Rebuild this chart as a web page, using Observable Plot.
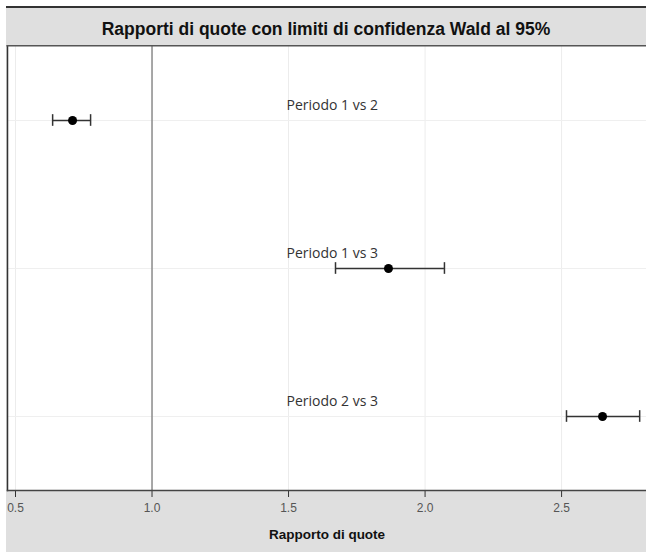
<!DOCTYPE html>
<html>
<head>
<meta charset="utf-8">
<script src="https://cdn.jsdelivr.net/npm/d3@7"></script>
<script src="https://cdn.jsdelivr.net/npm/@observablehq/plot@0.6"></script>
<style>
  html, body { margin: 0; padding: 0; background: #fff; }
  #panel {
    position: absolute; left: 6px; top: 6px; width: 640px;
    background: #dfdfdf; border-top: 2px solid #333;
  }
  #title {
    height: 37px; text-align: center;
    font: bold 17.5px "Liberation Sans", Arial, sans-serif; line-height: 42px; color: #111;
  }
  #chart svg { display: block; }
</style>
</head>
<body>
<div id="panel">
  <div id="title">Rapporti di quote con limiti di confidenza Wald al 95%</div>
  <div id="chart"></div>
</div>
<script>
// Odds ratios with 95% Wald confidence limits
const comparisons = ["Periodo 1 vs 2", "Periodo 1 vs 3", "Periodo 2 vs 3"];
const oddsRatio = [0.709, 1.866, 2.650];
const lowerCL = [0.636, 1.672, 2.518];
const upperCL = [0.775, 2.071, 2.786];
const xTicks = [0.5, 1.0, 1.5, 2.0, 2.5];

const rows = comparisons.map((c, i) => ({
  comp: c, or: oddsRatio[i], lo: lowerCL[i], hi: upperCL[i]
}));

const W = 640, H = 507, MB = 62;
const band = (H - MB) / comparisons.length;
const capInset = band / 2 - 6; // caps are 12px tall, centred on each row

const chart = Plot.plot({
  width: W,
  height: H,
  marginLeft: 1,
  marginRight: 0,
  marginTop: 0,
  marginBottom: MB,
  style: { background: "transparent", fontFamily: "'Liberation Sans', Arial, sans-serif" },
  x: {
    domain: [0.4707, 2.811],
    ticks: xTicks,
    tickFormat: d3.format(".1f")
  },
  y: { domain: comparisons, type: "band", padding: 0, axis: null },
  marks: [
    Plot.frame({ fill: "white" }),
    Plot.gridX(xTicks.filter(d => d !== 1), { stroke: "#ececec", strokeOpacity: 1 }),
    Plot.ruleY(comparisons, { y: d => d, stroke: "#efefef" }),
    Plot.ruleX([1], { stroke: "#8a8a8a", strokeWidth: 1.5 }),
    Plot.ruleY(rows, { y: "comp", x1: "lo", x2: "hi", stroke: "#333", strokeWidth: 1.5 }),
    Plot.tickX(rows, { x: "lo", y: "comp", insetTop: capInset, insetBottom: capInset, stroke: "#333", strokeWidth: 1.5 }),
    Plot.tickX(rows, { x: "hi", y: "comp", insetTop: capInset, insetBottom: capInset, stroke: "#333", strokeWidth: 1.5 }),
    Plot.dot(rows, { x: "or", y: "comp", r: 4.5, fill: "black", stroke: "none" }),
    Plot.text(rows, {
      x: () => 1.66, y: "comp", text: "comp", dy: -15,
      fontFamily: "'Open Sans', sans-serif", fontSize: 14, fill: "#333"
    }),
    Plot.axisX({
      ticks: xTicks, tickFormat: d3.format(".1f"), tickSize: 7,
      stroke: "#333", fill: "#555", fontSize: 12, tickPadding: 6,
      label: null
    }),
    Plot.axisX({
      ticks: [], label: "Rapporto di quote", labelAnchor: "center", labelArrow: "none",
      labelOffset: 48, fontWeight: "bold", fontSize: 13.5, fill: "#111", tickSize: 0
    }),
    Plot.frame({ anchor: "left", stroke: "#333", strokeWidth: 1.5 }),
    Plot.frame({ anchor: "top", stroke: "#555", strokeWidth: 2 }),
    Plot.frame({ anchor: "bottom", stroke: "#444", strokeWidth: 1.5 })
  ]
});
document.getElementById("chart").append(chart);
</script>
</body>
</html>
